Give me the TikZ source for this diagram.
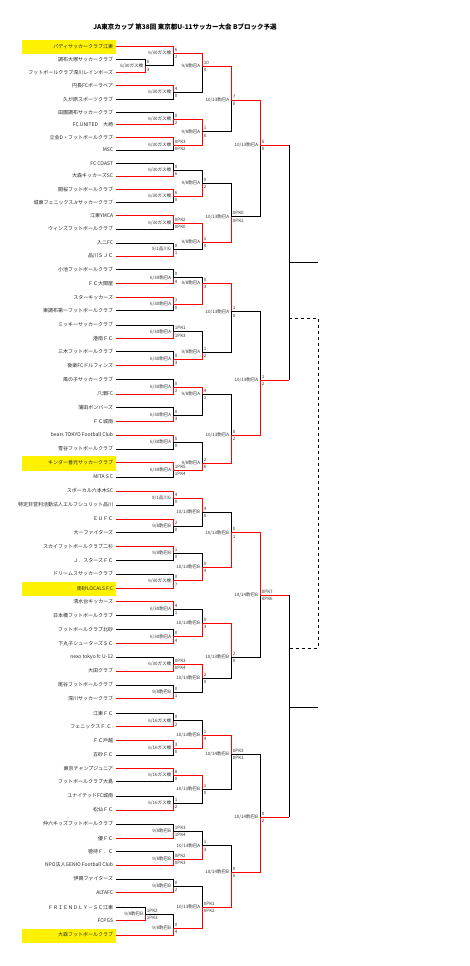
\documentclass[tikz,border=0pt]{standalone}
\usepackage{fontspec}
\setmainfont{Noto Sans CJK JP}
\usetikzlibrary{positioning}

\tikzset{
  team/.style={anchor=east, inner sep=0pt, text=black!85, font=\fontsize{5}{6}\selectfont},
  venue/.style={anchor=east, inner sep=0pt, text=black!80, font=\fontsize{4.5}{5}\selectfont},
  score/.style={anchor=base west, inner sep=0pt, text=black!80, font=\fontsize{4.5}{5}\selectfont},
}

\begin{document}
\begin{tikzpicture}[x=1pt,y=-1pt,line width=0.9pt]
\useasboundingbox (0,0) rectangle (470,966);
\fill[white] (0,0) rectangle (470,966);
\node[font=\bfseries\fontsize{6.5}{7}\selectfont] (title) at (185,27)
    {JA東京カップ 第38回 東京都U-11サッカー大会 Bブロック予選};

% seeded teams
\foreach \y in {46.3,462.7,588.3,935}
    \fill[yellow] (22,\y-6.5) rectangle (116,\y+8);

% teams
\foreach \y/\t [count=\i] in {
    46.3/パディサッカークラブ江東, 59.3/調布大塚サッカークラブ,
    72.3/フットボールクラブ深川レインボーズ, 85.3/円長FCポーラベア,
    99.7/久が原スポーツクラブ, 112.3/田園調布サッカークラブ,
    124.3/FC.UNITED　大崎, 137.7/立会D・フットボールクラブ,
    150/MSC, 163.3/FC COAST, 176/大森キッカーズSC,
    189.3/開桜フットボールクラブ, 202.7/城東フェニックスJrサッカークラブ,
    215.7/江東YMCA, 229/ウィンズフットボールクラブ, 243/入ニFC,
    256/品川ＳＪＣ, 269.3/小池フットボールクラブ, 283.3/ＦＣ大関屋,
    297.3/スターキッカーズ, 310.7/東調布第一フットボールクラブ,
    325/ミッキーサッカークラブ, 338.3/港南ＦＣ, 351.7/三木フットボールクラブ,
    365.7/後楽FCドルフィンズ, 379.7/風の子サッカークラブ, 394/八潮FC,
    407.7/蒲田ボンバーズ, 421.7/ＦＣ城南, 435/bears TOKYO Football Club,
    449/雪谷フットボールクラブ, 462.7/キンダー善光サッカークラブ,
    477/MITA S C, 491/スポーカル六本木SC,
    505/特定非営利活動法人エルフシュリット品川, 519/ＥＵＦＣ,
    532.7/大一ファイターズ, 546.7/スカイフットボールクラブ二杉,
    560.7/Ｊ．スターズＦＣ, 574/ドリームスサッカークラブ,
    588.3/南砂LOCALS F.C, 601.7/清水台キッカーズ,
    615.7/日本橋フットボールクラブ, 629.3/フットボールクラブ北砂,
    643.3/下丸子シューターズＳＣ, 657/nexo tokyo fc U-12, 671/大田クラブ,
    685/尾谷フットボールクラブ, 698.3/深川サッカークラブ, 713.3/江東ＦＣ,
    726.7/フェニックスＦ.Ｃ., 740.7/ＦＣ戸越, 755/五砂ＦＣ,
    768.3/東京チャンプジュニア, 781.7/フットボールクラブ大島,
    796/ユナイテッドFC城南, 810/松仙ＦＣ,
    824/仲六キッズフットボールクラブ, 838.3/優ＦＣ, 851.7/徳持Ｆ．Ｃ,
    865/NPO法人GENIO Football Club, 879/伊興ファイターズ, 892.7/ALTAFC,
    907.3/ＦＲＩＥＮＤＬＹ－ＳＣ江東, 920.7/FCPGS, 935/大森フットボールクラブ}
    \node[team] (t\i) at (113.5,\y) {\t};

% matches: x / from top / from bottom / top / out / bottom / colours / venue / scores
\foreach \x/\xa/\xb/\yt/\yo/\yb/\cA/\cB/\lab/\scA/\scB [count=\i] in {
    145/116/116/59.3/65.7/72.3/black/red/{6/30ガス橋}/0/3,
    145/116/116/907.3/914/920.7/black/red/{9/8駒巴B}/1PK2/1PK3,
    173/116/145/46.3/53.3/65.7/red/black/{6/30ガス橋}/6/2,
    173/116/116/85.3/92/99.7/red/black/{6/30ガス橋}/4/0,
    173/116/116/112.3/119.3/124.3/black/red/{6/30ガス橋}/0/2,
    173/116/116/137.7/145/150/red/black/{6/30ガス橋}/0PK3/0PK2,
    173/116/116/163.3/170/176/black/red/{6/30ガス橋}/0/6,
    173/116/116/189.3/196/202.7/red/black/{6/30ガス橋}/6/0,
    173/116/116/215.7/223.3/229/red/black/{6/30ガス橋}/0PK2/0PK0,
    173/116/116/243/249/256/black/red/{9/1品川G}/0/1,
    173/116/116/269.3/277.7/283.3/black/red/{6/30駒巴A}/0/4,
    173/116/116/297.3/304.3/310.7/red/black/{6/30駒巴A}/7/0,
    173/116/116/325/331.7/338.3/black/red/{6/30駒巴A}/1PK1/1PK3,
    173/116/116/351.7/359/365.7/black/red/{6/30駒巴A}/0/3,
    173/116/116/379.7/387.3/394/black/red/{6/30駒巴A}/0/2,
    173/116/116/407.7/415/421.7/black/red/{6/30駒巴A}/0/3,
    173/116/116/435/442.3/449/red/black/{6/30駒巴A}/5/0,
    173/116/116/462.7/470/477/red/black/{6/30駒巴A}/1PK5/1PK4,
    173/116/116/491/498.3/505/red/black/{9/1品川G}/4/0,
    173/116/116/519/526.3/532.7/red/black/{9/8駒巴B}/2/0,
    173/116/116/546.7/553.3/560.7/red/black/{9/8駒巴B}/1/0,
    173/116/116/574/580.7/588.3/black/red/{6/30ガス橋}/0/7,
    173/116/116/601.7/609/615.7/red/black/{6/30駒巴A}/4/1,
    173/116/116/629.3/636.7/643.3/black/red/{6/30駒巴A}/0/4,
    173/116/116/657/664.3/671/black/red/{6/30ガス橋}/0PK3/0PK4,
    173/116/116/685/692.3/698.3/black/red/{9/8駒巴B}/0/1,
    173/116/116/713.3/720.7/726.7/black/red/{6/16ガス橋}/0/2,
    173/116/116/740.7/748.3/755/red/black/{6/16ガス橋}/3/0,
    173/116/116/768.3/775/781.7/red/black/{6/16ガス橋}/8/0,
    173/116/116/796/803.3/810/black/red/{6/16ガス橋}/1/2,
    173/116/116/824/831/838.3/black/red/{9/8駒巴B}/1PK3/1PK4,
    173/116/116/851.7/859/865/black/red/{9/8駒巴B}/0PK2/0PK3,
    173/116/116/879/886/892.7/black/red/{9/8駒巴B}/0/2,
    173/145/116/914/928.3/935/black/red/{9/8駒巴B}/0/4,
    202/173/173/53.3/66/92/red/black/{9/8駒巴A}/10/0,
    202/173/173/119.3/131.7/145/red/red/{9/8駒巴A}/1/0,
    202/173/173/170/183/196/black/red/{9/8駒巴A}/0/2,
    202/173/173/223.3/242/249/red/black/{9/8駒巴A}/1/0,
    202/173/173/277.7/283.3/304.3/black/red/{9/8駒巴A}/0/3,
    202/173/173/331.7/352/359/black/red/{9/8駒巴A}/1/2,
    202/173/173/387.3/394/415/red/black/{9/8駒巴A}/4/1,
    202/173/173/442.3/463/470/black/red/{9/8駒巴A}/2/6,
    202/173/173/498.3/512/526.3/red/black/{10/13駒巴B}/4/0,
    202/173/173/553.3/567/580.7/black/red/{10/13駒巴B}/0/4,
    202/173/173/609/623/636.7/black/red/{10/13駒巴B}/0/3,
    202/173/173/664.3/678/692.3/red/black/{10/13駒巴B}/2/0,
    202/173/173/720.7/735/748.3/black/red/{10/13駒巴B}/1/4,
    202/173/173/775/789/803.3/red/black/{10/13駒巴B}/1/0,
    202/173/173/831/845.7/859/black/red/{10/13駒巴A}/1/3,
    202/173/173/886/907/928.3/black/red/{10/13駒巴A}/0PK1/0PK2,
    231/202/202/66/100/131.7/red/black/{10/13駒巴A}/7/0,
    231/202/202/183/216.7/242/black/red/{10/13駒巴A}/0PK0/0PK2,
    231/202/202/283.3/311.7/352/red/black/{10/13駒巴A}/1/0,
    231/202/202/394/435/463/black/red/{10/13駒巴A}/0/2,
    231/202/202/512/532.7/567/black/red/{10/13駒巴B}/0/1,
    231/202/202/623/657/678/red/black/{10/13駒巴B}/2/0,
    231/202/202/735/754/789/red/black/{10/14駒巴B}/0PK3/0PK1,
    231/202/202/845.7/872/907/black/red/{10/14駒巴B}/0/5,
    260/231/231/100/145/216.7/red/black/{10/13駒巴A}/5/0,
    260/231/231/311.7/380/435/black/red/{10/13駒巴A}/1/2,
    260/231/231/532.7/595/657/red/black/{10/14駒巴B}/0PK7/0PK6,
    260/231/231/754/817/872/black/red/{10/14駒巴B}/0/2}
{
    \draw[color=\cA] (\xa,\yt) -- (\x,\yt) -- (\x,\yo);
    \draw[color=\cB] (\xb,\yb) -- (\x,\yb) -- (\x,\yo);
    \node[venue] (v\i) at (\x-1.5,\yo) {\lab};
    \node[score] (sa\i) at (\x+1.5,\yo-1.8) {\scA};
    \node[score] (sb\i) at (\x+1.5,\yo+5.4) {\scB};
}

% block finals
\foreach \y in {145,380,595,817}
    \draw[red] (260,\y) -- (289,\y);
\draw (289,145) -- (289,380);
\draw (289,595) -- (289,817);
\coordinate (up) at (318,262);
\coordinate (dn) at (318,707);
\draw (289,262) -- (up);
\draw (289,707) -- (dn);
\draw[dashed] (289,318) -- (318,318) -- (318,648) -- (289,648);
\end{tikzpicture}
\end{document}
